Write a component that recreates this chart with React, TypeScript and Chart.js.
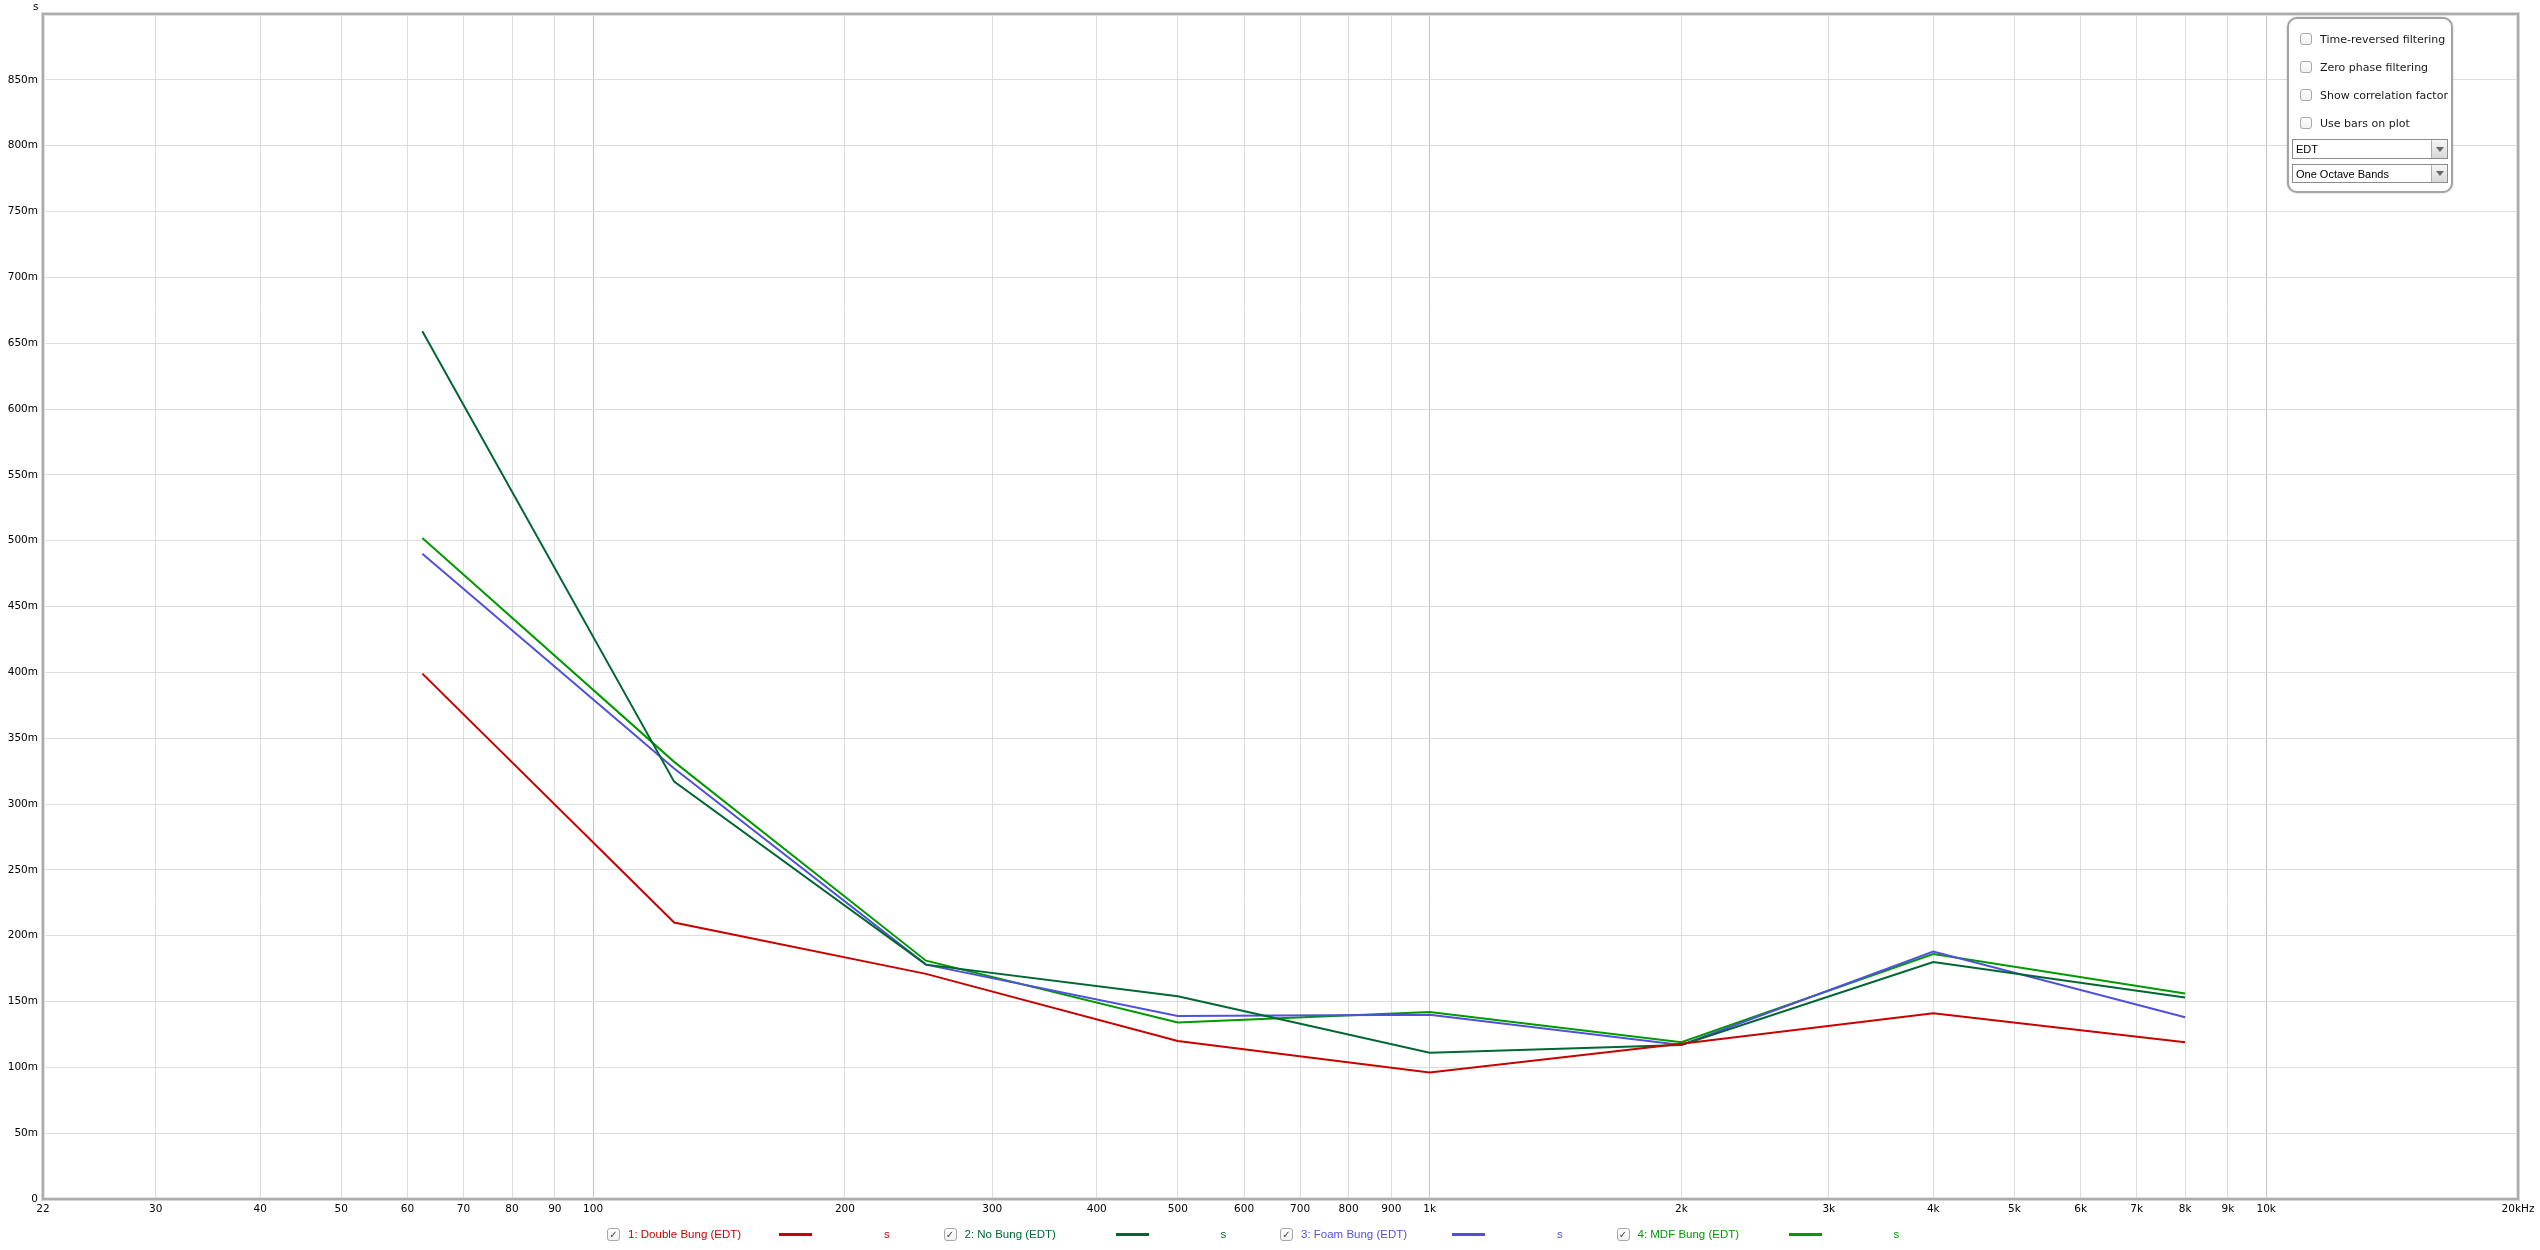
import React, { useEffect, useRef } from "react";
import { Chart, registerables } from "chart.js";

Chart.register(...registerables);

// ---- data ----
const frequencies = [62.5, 125, 250, 500, 1000, 2000, 4000, 8000];
const doubleBung = [0.399, 0.21, 0.171, 0.12, 0.096, 0.118, 0.141, 0.119];
const noBung = [0.659, 0.317, 0.178, 0.154, 0.111, 0.117, 0.18, 0.153];
const foamBung = [0.49, 0.327, 0.178, 0.139, 0.14, 0.117, 0.188, 0.138];
const mdfBung = [0.502, 0.332, 0.181, 0.134, 0.142, 0.119, 0.186, 0.156];

const seriesNames = [
  "1: Double Bung (EDT)",
  "2: No Bung (EDT)",
  "3: Foam Bung (EDT)",
  "4: MDF Bung (EDT)",
];
const seriesColors = ["#c80000", "#006633", "#5050dc", "#009900"];

const xTicks = [
  22, 30, 40, 50, 60, 70, 80, 90, 100, 200, 300, 400, 500, 600, 700, 800, 900,
  1000, 2000, 3000, 4000, 5000, 6000, 7000, 8000, 9000, 10000, 20000,
];
const xTickLabels = [
  "22", "30", "40", "50", "60", "70", "80", "90", "100", "200", "300", "400",
  "500", "600", "700", "800", "900", "1k", "2k", "3k", "4k", "5k", "6k", "7k",
  "8k", "9k", "10k", "20kHz",
];
const xMajor = [100, 1000, 10000];

const yTicks = [
  0, 0.05, 0.1, 0.15, 0.2, 0.25, 0.3, 0.35, 0.4, 0.45, 0.5, 0.55, 0.6, 0.65,
  0.7, 0.75, 0.8, 0.85, 0.9,
];
const yTickLabels = [
  "0", "50m", "100m", "150m", "200m", "250m", "300m", "350m", "400m", "450m",
  "500m", "550m", "600m", "650m", "700m", "750m", "800m", "850m", "",
];

const controlChecks = [
  "Time-reversed filtering",
  "Zero phase filtering",
  "Show correlation factor",
  "Use bars on plot",
];
const controlSelects = ["EDT", "One Octave Bands"];

const allSeries = [doubleBung, noBung, foamBung, mdfBung];

const framePlugin = {
  id: "frame",
  afterDraw(chart: any) {
    const { left, top, right, bottom } = chart.chartArea;
    const ctx = chart.ctx;
    ctx.save();
    ctx.strokeStyle = "#d6d6d6";
    ctx.lineWidth = 1;
    ctx.strokeRect(left - 1.5, top - 1.5, right - left + 3, bottom - top + 3);
    ctx.strokeStyle = "#e2e2e2";
    ctx.strokeRect(left + 1.5, top + 1.5, right - left - 3, bottom - top - 3);
    ctx.strokeStyle = "#acacac";
    ctx.lineWidth = 2;
    ctx.strokeRect(left, top, right - left, bottom - top);
    ctx.restore();
  },
};

const uiFont = "'Liberation Sans', Arial, sans-serif";

function Checkbox({ checked, size }: { checked: boolean; size: number }) {
  return (
    <div
      style={{
        width: size,
        height: size,
        boxSizing: "border-box",
        border: "1px solid #a8a8a8",
        borderRadius: 3,
        background: "linear-gradient(#ffffff, #f0f0f0)",
        display: "flex",
        alignItems: "center",
        justifyContent: "center",
        fontSize: size - 3,
        lineHeight: 1,
        color: "#444",
        fontFamily: "'DejaVu Sans', sans-serif",
      }}
    >
      {checked ? "✓" : ""}
    </div>
  );
}

export default function App() {
  const canvasRef = useRef<HTMLCanvasElement | null>(null);

  useEffect(() => {
    const canvas = canvasRef.current;
    if (!canvas) return;
    const chart = new Chart(canvas, {
      type: "line",
      data: {
        datasets: allSeries.map((vals, si) => ({
          label: seriesNames[si],
          data: frequencies.map((f, i) => ({ x: f, y: vals[i] })),
          borderColor: seriesColors[si],
          backgroundColor: seriesColors[si],
          borderWidth: 2,
          pointRadius: 0,
          tension: 0,
          fill: false,
        })),
      },
      options: {
        responsive: false,
        maintainAspectRatio: false,
        animation: false,
        layout: { padding: { top: 14, right: 22, left: 0, bottom: 0 } },
        plugins: {
          legend: { display: false },
          tooltip: { enabled: false },
        },
        scales: {
          x: {
            type: "logarithmic",
            min: 22,
            max: 20000,
            afterBuildTicks: (s: any) => {
              s.ticks = xTicks.map((v) => ({ value: v }));
            },
            afterFit: (s: any) => {
              s.height = 51;
            },
            ticks: {
              autoSkip: false,
              maxRotation: 0,
              minRotation: 0,
              padding: 4,
              color: "#000",
              font: { family: "'DejaVu Sans'", size: 10.5 },
              callback: (_v: any, i: number) => xTickLabels[i],
            },
            grid: {
              drawTicks: false,
              lineWidth: 1,
              color: (c: any) =>
                c.tick && xMajor.includes(c.tick.value) ? "#c2c2c2" : "#dddddd",
            },
            border: { display: false },
          },
          y: {
            type: "linear",
            min: 0,
            max: 0.9,
            afterBuildTicks: (s: any) => {
              s.ticks = yTicks.map((v) => ({ value: v }));
            },
            afterFit: (s: any) => {
              s.width = 43;
            },
            ticks: {
              padding: 5,
              color: "#000",
              font: { family: "'DejaVu Sans'", size: 10.5 },
              callback: (_v: any, i: number) => yTickLabels[i],
            },
            grid: { drawTicks: false, lineWidth: 1, color: "#dddddd" },
            border: { display: false },
          },
        },
      },
      plugins: [framePlugin],
    } as any);
    return () => chart.destroy();
  }, []);

  return (
    <div
      style={{
        position: "absolute",
        left: 0,
        top: 0,
        width: 2540,
        height: 1250,
        background: "#fff",
        overflow: "hidden",
      }}
    >
      <canvas
        ref={canvasRef}
        width={2540}
        height={1250}
        style={{ position: "absolute", left: 0, top: 0, width: 2540, height: 1250 }}
      />
      {/* unit label */}
      <span
        style={{
          position: "absolute",
          left: 33,
          top: 1,
          fontFamily: "'DejaVu Sans', sans-serif",
          fontSize: 10.5,
          lineHeight: "10.5px",
          color: "#000",
        }}
      >
        s
      </span>

      {/* control box */}
      <div
        style={{
          position: "absolute",
          left: 2287,
          top: 17,
          width: 166,
          height: 176,
          boxSizing: "border-box",
          border: "2px solid #a4a4a4",
          borderRadius: 10,
          background: "#fff",
          boxShadow: "0 0 2px rgba(0,0,0,0.25)",
          fontFamily: "'DejaVu Sans', sans-serif",
          fontSize: 11,
          color: "#1a1a1a",
        }}
      >
        {controlChecks.map((t, i) => (
          <div
            key={t}
            style={{
              position: "absolute",
              left: 11,
              top: 14 + i * 28,
              height: 12,
              display: "flex",
              alignItems: "center",
              whiteSpace: "nowrap",
            }}
          >
            <Checkbox checked={false} size={12} />
            <span style={{ marginLeft: 8 }}>{t}</span>
          </div>
        ))}
        {controlSelects.map((t, i) => (
          <div
            key={t}
            style={{
              position: "absolute",
              left: 3,
              top: 120 + i * 25,
              width: 156,
              height: i === 0 ? 20 : 19,
              boxSizing: "border-box",
              border: "1px solid #8c8c8c",
              background: "#fff",
              display: "flex",
              alignItems: "center",
              fontFamily: uiFont,
              fontSize: 11,
              color: "#000",
            }}
          >
            <span style={{ marginLeft: 3, flex: 1, whiteSpace: "nowrap" }}>{t}</span>
            <div
              style={{
                width: 15,
                height: "100%",
                borderLeft: "1px solid #b0b0b0",
                background: "linear-gradient(#f6f6f6, #d8d8d8)",
                display: "flex",
                alignItems: "center",
                justifyContent: "center",
              }}
            >
              <div
                style={{
                  width: 0,
                  height: 0,
                  borderLeft: "4px solid transparent",
                  borderRight: "4px solid transparent",
                  borderTop: "5px solid #666",
                }}
              />
            </div>
          </div>
        ))}
      </div>

      {/* bottom legend */}
      {seriesNames.map((name, i) => {
        const x0 = 607 + i * 336.5;
        return (
          <div
            key={name}
            style={{
              position: "absolute",
              left: x0,
              top: 1228,
              height: 13,
              width: 300,
              fontFamily: uiFont,
              fontSize: 11.5,
              color: seriesColors[i],
            }}
          >
            <div style={{ position: "absolute", left: 0, top: 0 }}>
              <Checkbox checked={true} size={13} />
            </div>
            <span
              style={{
                position: "absolute",
                left: 21,
                top: 0,
                lineHeight: "13px",
                whiteSpace: "nowrap",
              }}
            >
              {name}
            </span>
            <div
              style={{
                position: "absolute",
                left: 172,
                top: 5,
                width: 33,
                height: 3,
                background: seriesColors[i],
              }}
            />
            <span
              style={{
                position: "absolute",
                left: 277,
                top: 0,
                lineHeight: "13px",
              }}
            >
              s
            </span>
          </div>
        );
      })}
    </div>
  );
}
